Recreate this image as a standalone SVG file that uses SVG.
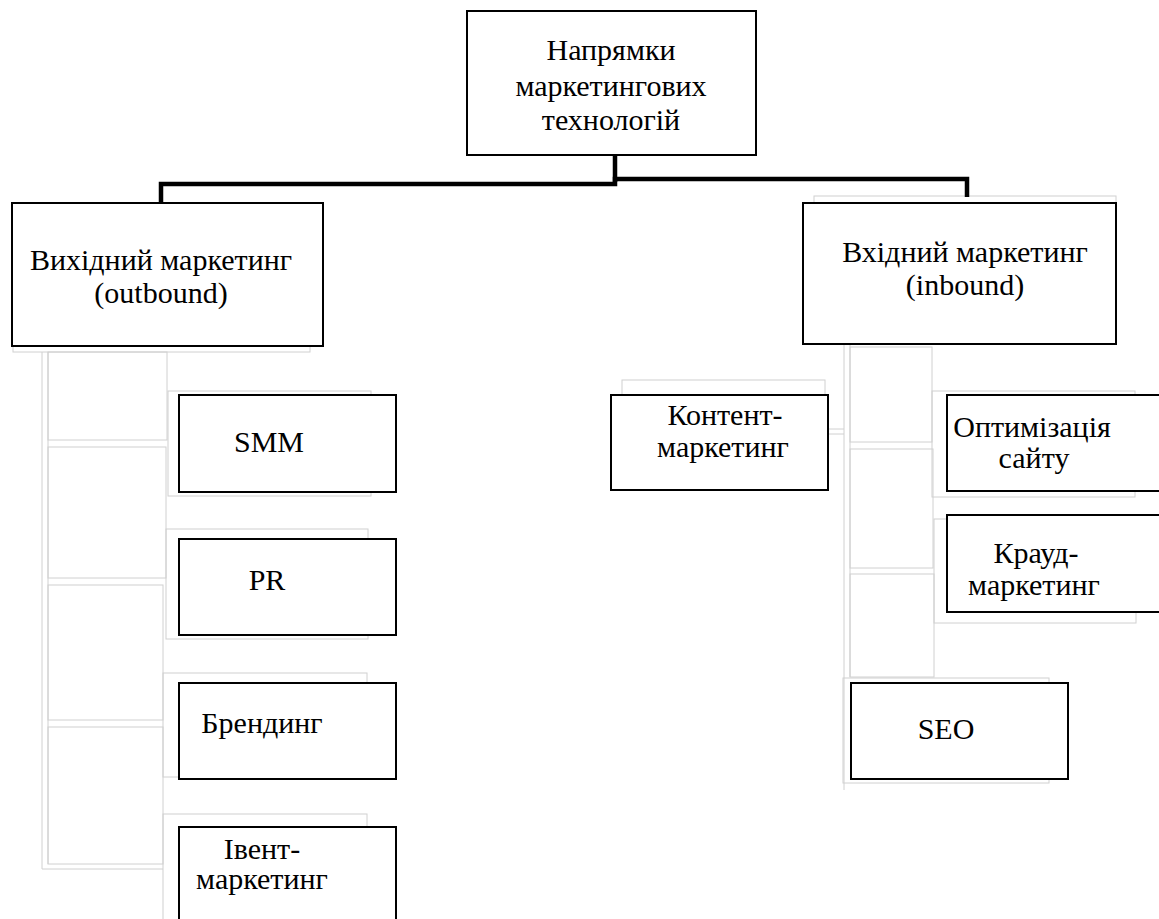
<svg xmlns="http://www.w3.org/2000/svg" width="1159" height="919" viewBox="0 0 1159 919" font-family="Liberation Serif, Times New Roman, serif">
<style>
.box{fill:#fff;stroke:#000;stroke-width:2}
.faint{fill:none;stroke:#d0d0d0;stroke-width:1}
.t{font-size:30px;fill:#000;text-anchor:middle}
.conn{fill:none;stroke:#000;stroke-width:4.5;stroke-linejoin:miter}
</style>
<rect x="0" y="0" width="1159" height="919" fill="#fff"/>
<g id="faint-connectors">
<rect class="faint" x="13" y="205" width="297" height="147"/>
<polyline class="faint" points="42,352 42,869 163,869"/>
<line class="faint" x1="48" y1="352" x2="48" y2="864"/>
<rect class="faint" x="48" y="352" width="119" height="88"/>
<rect class="faint" x="48" y="447" width="118" height="131"/>
<rect class="faint" x="48" y="585" width="115" height="135"/>
<rect class="faint" x="48" y="727" width="115" height="137"/>
<rect class="faint" x="168" y="391" width="203" height="105"/>
<rect class="faint" x="166" y="529" width="202" height="110"/>
<rect class="faint" x="163" y="673" width="204" height="104"/>
<rect class="faint" x="163" y="814" width="204" height="110"/>
<rect class="faint" x="814" y="196" width="302" height="148"/>
<line class="faint" x1="844" y1="344" x2="844" y2="790"/>
<line class="faint" x1="850" y1="344" x2="850" y2="677"/>
<rect class="faint" x="850" y="347" width="82" height="95"/>
<rect class="faint" x="850" y="449" width="83" height="119"/>
<rect class="faint" x="850" y="574" width="84" height="103"/>
<rect class="faint" x="622" y="380" width="203" height="110"/>
<polyline class="faint" points="825,429 844,429"/>
<polyline class="faint" points="825,434 844,434"/>
<rect class="faint" x="932" y="391" width="203" height="106"/>
<rect class="faint" x="934" y="519" width="202" height="104"/>
<rect class="faint" x="843" y="678" width="206" height="105"/>
</g>
<g id="connectors">
<polyline class="conn" points="161,203 161,184 615,184 615,155"/>
<polyline class="conn" points="615,182 615,179 967,179 967,197"/>
</g>
<g id="node-root">
<rect class="box" x="467" y="11" width="289" height="144"/>
<text class="t" x="611" y="60">Напрямки</text>
<text class="t" x="611" y="96">маркетингових</text>
<text class="t" x="611" y="130">технологій</text>
</g>
<g id="node-outbound">
<rect class="box" x="12" y="203" width="311" height="143"/>
<text class="t" x="161" y="270">Вихідний маркетинг</text>
<text class="t" x="161" y="303">(outbound)</text>
</g>
<g id="node-inbound">
<rect class="box" x="803" y="203" width="313" height="141"/>
<text class="t" x="965" y="262">Вхідний маркетинг</text>
<text class="t" x="965" y="295">(inbound)</text>
</g>
<g id="node-smm">
<rect class="box" x="179" y="395" width="217" height="97"/>
<text class="t" x="269" y="452">SMM</text>
</g>
<g id="node-pr">
<rect class="box" x="179" y="539" width="217" height="96"/>
<text class="t" x="267" y="590">PR</text>
</g>
<g id="node-branding">
<rect class="box" x="179" y="683" width="217" height="96"/>
<text class="t" x="262" y="733">Брендинг</text>
</g>
<g id="node-event">
<rect class="box" x="179" y="827" width="217" height="100"/>
<text class="t" x="262" y="859">Івент-</text>
<text class="t" x="262" y="889">маркетинг</text>
</g>
<g id="node-content">
<rect class="box" x="611" y="395" width="217" height="95"/>
<text class="t" x="725" y="425">Контент-</text>
<text class="t" x="723" y="457">маркетинг</text>
</g>
<g id="node-optim">
<rect class="box" x="947" y="395" width="220" height="96"/>
<text class="t" x="1032" y="437">Оптимізація</text>
<text class="t" x="1034" y="468">сайту</text>
</g>
<g id="node-crowd">
<rect class="box" x="947" y="515" width="220" height="97"/>
<text class="t" x="1036" y="563">Крауд-</text>
<text class="t" x="1034" y="595">маркетинг</text>
</g>
<g id="node-seo">
<rect class="box" x="851" y="683" width="217" height="96"/>
<text class="t" x="946" y="739">SEO</text>
</g>
</svg>
